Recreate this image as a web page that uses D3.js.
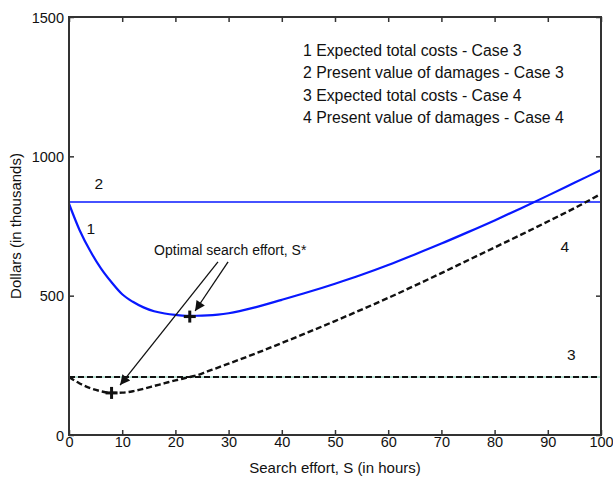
<!DOCTYPE html>
<html>
<head>
<meta charset="utf-8">
<script src="https://cdn.jsdelivr.net/npm/d3@7"></script>
<style>
  body { margin: 0; background: #fff; }
  text { font-family: "Liberation Sans", Arial, sans-serif; fill: #111; }
</style>
</head>
<body>
<div id="chart"></div>
<script>
// search effort S (hours)
const effort = [0, 2, 4, 6, 8, 10, 12, 14, 16, 18, 20, 22, 24, 26, 28, 30,
  35, 40, 45, 50, 55, 60, 65, 70, 75, 80, 85, 90, 95, 100];
// 1 expected total costs - case 3
const totalCase3 = [830, 735, 660, 598, 548, 505, 478, 458, 444, 436, 431, 428, 428, 429, 432, 437,
  458, 485, 513, 543, 575, 610, 648, 687, 728, 770, 814, 859, 905, 951];
// 3 expected total costs - case 4
const totalCase4 = [208, 185, 168, 157, 151, 152, 157, 166, 176, 186, 196, 205, 214, 228, 242, 256,
  292, 330, 369, 409, 450, 492, 536, 581, 627, 673, 719, 766, 814, 865];
// present value of damages (constant)
const damagesCase3 = 836;
const damagesCase4 = 208;
// optimal search effort points
const optimum = [{ s: 22.7, v: 425 }, { s: 8, v: 151 }];

const xTicks = [0, 10, 20, 30, 40, 50, 60, 70, 80, 90, 100];
const yTicks = [0, 500, 1000, 1500];
const legendLines = [
  '1 Expected total costs - Case 3',
  '2 Present value of damages - Case 3',
  '3 Expected total costs - Case 4',
  '4 Present value of damages - Case 4'
];
// curve labels placed in data units
const curveLabels = [
  { t: '2', s: 5.6, v: 904 },
  { t: '1', s: 4.1, v: 739 },
  { t: '4', s: 93.2, v: 675 },
  { t: '3', s: 94.4, v: 287 }
];

const width = 613, height = 478;
const margin = { top: 17, right: 12, bottom: 43, left: 69 };

const svg = d3.select('#chart').append('svg')
  .attr('width', width)
  .attr('height', height);

const x = d3.scaleLinear().domain([0, 100]).range([margin.left, width - margin.right]);
const y = d3.scaleLinear().domain([0, 1500]).range([height - margin.bottom, margin.top]);

const frame = '#333';

/* ---------- axes, MATLAB style box with inward ticks ---------- */
const gx = svg.append('g')
  .attr('transform', 'translate(0,' + y(0) + ')')
  .call(d3.axisBottom(x).tickValues(xTicks).tickFormat(d3.format('d'))
    .tickSizeInner(-5).tickSizeOuter(0).tickPadding(2));
const gxTop = svg.append('g')
  .attr('transform', 'translate(0,' + y(1500) + ')')
  .call(d3.axisTop(x).tickValues(xTicks).tickSizeInner(-5).tickSizeOuter(0).tickFormat(''));
const gy = svg.append('g')
  .attr('transform', 'translate(' + x(0) + ',0)')
  .call(d3.axisLeft(y).tickValues(yTicks).tickFormat(d3.format('d'))
    .tickSizeInner(-5).tickSizeOuter(0).tickPadding(5));
const gyRight = svg.append('g')
  .attr('transform', 'translate(' + x(100) + ',0)')
  .call(d3.axisRight(y).tickValues(yTicks).tickSizeInner(-5).tickSizeOuter(0).tickFormat(''));

[gx, gxTop, gy, gyRight].forEach(g => {
  g.select('.domain').remove();
  g.selectAll('.tick line').attr('stroke', frame).attr('stroke-width', 1.5);
  g.selectAll('.tick text').style('font-size', '14.5px').attr('fill', '#111');
});
gx.selectAll('.tick text').attr('dy', '0.72em');
gy.selectAll('.tick text').attr('dy', '0.35em');

/* ---------- lines ---------- */
const line = d3.line().x(d => x(d[0])).y(d => y(d[1])).curve(d3.curveMonotoneX);

// 4: horizontal dashed (case 4 damages)
svg.append('path')
  .datum([[0, damagesCase4], [100, damagesCase4]])
  .attr('d', line).attr('fill', 'none')
  .attr('stroke', '#6fc3a8').attr('stroke-width', 1);
svg.append('path')
  .datum([[0, damagesCase4], [100, damagesCase4]])
  .attr('d', line).attr('fill', 'none')
  .attr('stroke', '#111').attr('stroke-width', 2).attr('stroke-dasharray', '6,3');

// 2: horizontal blue (case 3 damages)
svg.append('path')
  .datum([[0, damagesCase3], [100, damagesCase3]])
  .attr('d', line).attr('fill', 'none')
  .attr('stroke', '#0818ff').attr('stroke-width', 1.6);

// 3: dashed total costs case 4
svg.append('path')
  .datum(effort.map((s, i) => [s, totalCase4[i]]))
  .attr('d', line).attr('fill', 'none')
  .attr('stroke', '#111').attr('stroke-width', 2.4).attr('stroke-dasharray', '6,3');

// 1: blue total costs case 3
svg.append('path')
  .datum(effort.map((s, i) => [s, totalCase3[i]]))
  .attr('d', line).attr('fill', 'none')
  .attr('stroke', '#0818ff').attr('stroke-width', 2.2);

/* ---------- frame box ---------- */
svg.append('rect')
  .attr('x', x(0)).attr('y', y(1500))
  .attr('width', x(100) - x(0)).attr('height', y(0) - y(1500))
  .attr('fill', 'none').attr('stroke', frame).attr('stroke-width', 2);

/* ---------- optimum markers ---------- */
const plus = svg.selectAll('.opt').data(optimum).enter().append('g')
  .attr('class', 'opt')
  .attr('transform', d => 'translate(' + x(d.s) + ',' + y(d.v) + ')');
plus.append('line').attr('x1', -6).attr('x2', 6).attr('stroke', '#111').attr('stroke-width', 3);
plus.append('line').attr('y1', -6).attr('y2', 6).attr('stroke', '#111').attr('stroke-width', 3);

/* ---------- arrows and annotation ---------- */
svg.append('defs').append('marker')
  .attr('id', 'head')
  .attr('viewBox', '0 0 10 10')
  .attr('refX', 10).attr('refY', 5)
  .attr('markerWidth', 16).attr('markerHeight', 10)
  .attr('markerUnits', 'userSpaceOnUse')
  .attr('orient', 'auto')
  .append('path').attr('d', 'M0,0 L10,5 L0,10 Z').attr('fill', '#111');

const arrows = [
  { from: [28.0, 621], to: [9.6, 179] },
  { from: [29.9, 621], to: [23.7, 445] }
];
svg.selectAll('.arrow').data(arrows).enter().append('line')
  .attr('class', 'arrow')
  .attr('x1', d => x(d.from[0])).attr('y1', d => y(d.from[1]))
  .attr('x2', d => x(d.to[0])).attr('y2', d => y(d.to[1]))
  .attr('stroke', '#111').attr('stroke-width', 1.3)
  .attr('marker-end', 'url(#head)');

svg.append('text')
  .attr('x', x(16)).attr('y', y(664))
  .attr('dy', '0.35em')
  .style('font-size', '14px')
  .text('Optimal search effort, S*');

svg.selectAll('.clabel').data(curveLabels).enter().append('text')
  .attr('class', 'clabel')
  .attr('x', d => x(d.s)).attr('y', d => y(d.v))
  .attr('dy', '0.35em').attr('text-anchor', 'middle')
  .style('font-size', '15.5px')
  .text(d => d.t);

/* ---------- legend text ---------- */
svg.selectAll('.leg').data(legendLines).enter().append('text')
  .attr('class', 'leg')
  .attr('x', 303).attr('y', (d, i) => 50 + i * 22.6)
  .attr('dy', '0.35em')
  .style('font-size', '15.8px')
  .text(d => d);

/* ---------- axis titles ---------- */
svg.append('text')
  .attr('x', (x(0) + x(100)) / 2).attr('y', 473)
  .attr('text-anchor', 'middle')
  .style('font-size', '15px')
  .text('Search effort, S (in hours)');

svg.append('text')
  .attr('transform', 'translate(21,' + (y(0) + y(1500)) / 2 + ') rotate(-90)')
  .attr('text-anchor', 'middle')
  .style('font-size', '15px')
  .text('Dollars (in thousands)');
</script>
</body>
</html>
